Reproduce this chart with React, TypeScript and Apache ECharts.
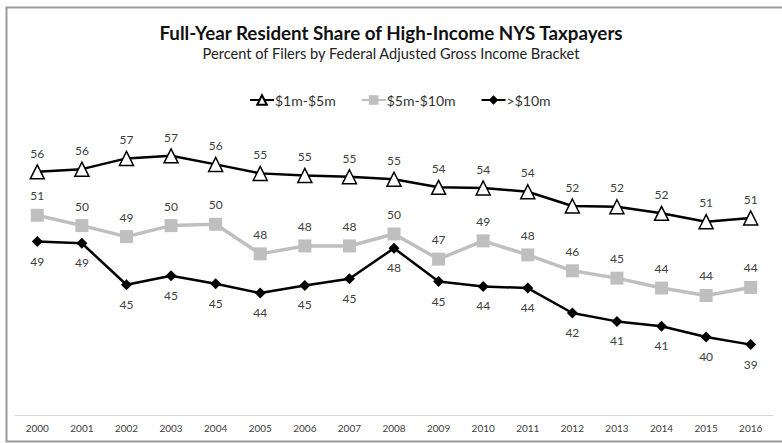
import React, { useEffect, useRef } from "react";
import * as echarts from "echarts";

const years = ["2000","2001","2002","2003","2004","2005","2006","2007","2008","2009","2010","2011","2012","2013","2014","2015","2016"];
const s1to5 = [55.56,55.82,56.86,57.11,56.28,55.41,55.21,55.08,54.84,54.06,53.99,53.63,52.25,52.18,51.54,50.73,51.09];
const s5to10 = [51.35,50.35,49.28,50.35,50.48,47.61,48.38,48.38,49.54,47.1,48.87,47.51,45.97,45.26,44.3,43.58,44.36];
const sOver10 = [48.8,48.64,44.62,45.49,44.71,43.81,44.55,45.2,48.16,44.93,44.45,44.3,41.88,41.07,40.59,39.56,38.82];

const FONT = "Lato, 'Open Sans', sans-serif";

export default function App() {
  const ref = useRef<HTMLDivElement>(null);
  useEffect(() => {
    if (!ref.current) return;
    const chart = echarts.init(ref.current, null, { renderer: "svg" });
    const labelFmt = (p: any) => String(Math.round(p.value));
    chart.setOption({
      animation: false,
      backgroundColor: "#ffffff",
      textStyle: { fontFamily: FONT },
      title: [
        {
          text: "Full-Year Resident Share of High-Income NYS Taxpayers",
          left: "center",
          top: 16,
          textStyle: { fontSize: 18.8, fontWeight: "bold", color: "#111", fontFamily: FONT, lineHeight: 22 },
        },
        {
          text: "Percent of Filers by Federal Adjusted Gross Income Bracket",
          left: "center",
          top: 40,
          textStyle: { fontSize: 14.6, fontWeight: "normal", color: "#222", fontFamily: FONT, lineHeight: 16 },
        },
      ],
      legend: {
        left: 244,
        top: 88,
        itemWidth: 24,
        itemHeight: 12,
        itemGap: 25,
        textStyle: { fontSize: 14, color: "#333", fontFamily: FONT, padding: [0, 0, 0, -4] },
        data: ["$1m-$5m", "$5m-$10m", ">$10m"],
      },
      grid: { left: 15, right: 9, top: 126, bottom: 28 },
      xAxis: {
        type: "category",
        data: years,
        boundaryGap: true,
        axisLine: { show: true, lineStyle: { color: "#d9d9d9", width: 1 } },
        axisTick: { show: false },
        axisLabel: { fontSize: 10, color: "#404040", margin: 8, fontFamily: FONT },
      },
      yAxis: {
        type: "value",
        min: 32,
        max: 60,
        show: false,
        splitLine: { show: false },
      },
      series: [
        {
          name: "$1m-$5m",
          type: "line",
          data: s1to5,
          symbol: "triangle",
          symbolSize: 14,
          lineStyle: { color: "#000", width: 2.5 },
          itemStyle: { color: "#fff", borderColor: "#000", borderWidth: 1.5 },
          label: { show: true, position: "top", distance: 5, formatter: labelFmt, fontSize: 12, color: "#404040", fontFamily: FONT },
          z: 3,
        },
        {
          name: "$5m-$10m",
          type: "line",
          data: s5to10,
          symbol: "rect",
          symbolSize: 13,
          lineStyle: { color: "#bfbfbf", width: 3.5 },
          itemStyle: { color: "#bfbfbf" },
          label: { show: true, position: "top", distance: 7, formatter: labelFmt, fontSize: 12, color: "#404040", fontFamily: FONT },
          z: 2,
        },
        {
          name: ">$10m",
          type: "line",
          data: sOver10,
          symbol: "diamond",
          symbolSize: 11,
          lineStyle: { color: "#000", width: 2.5 },
          itemStyle: { color: "#000" },
          label: { show: true, position: "bottom", distance: 8, formatter: labelFmt, fontSize: 12, color: "#404040", fontFamily: FONT },
          z: 4,
        },
      ],
      graphic: [
        {
          type: "rect",
          left: 4,
          top: 5,
          shape: { x: 0, y: 0, width: 800, height: 434 },
          style: { fill: "none", stroke: "#9a9a9a", lineWidth: 2 },
          silent: true,
        },
      ],
    });
    return () => chart.dispose();
  }, []);
  return (
    <div
      ref={ref}
      style={{ position: "fixed", left: 0, top: 0, width: 782, height: 443 }}
    />
  );
}
